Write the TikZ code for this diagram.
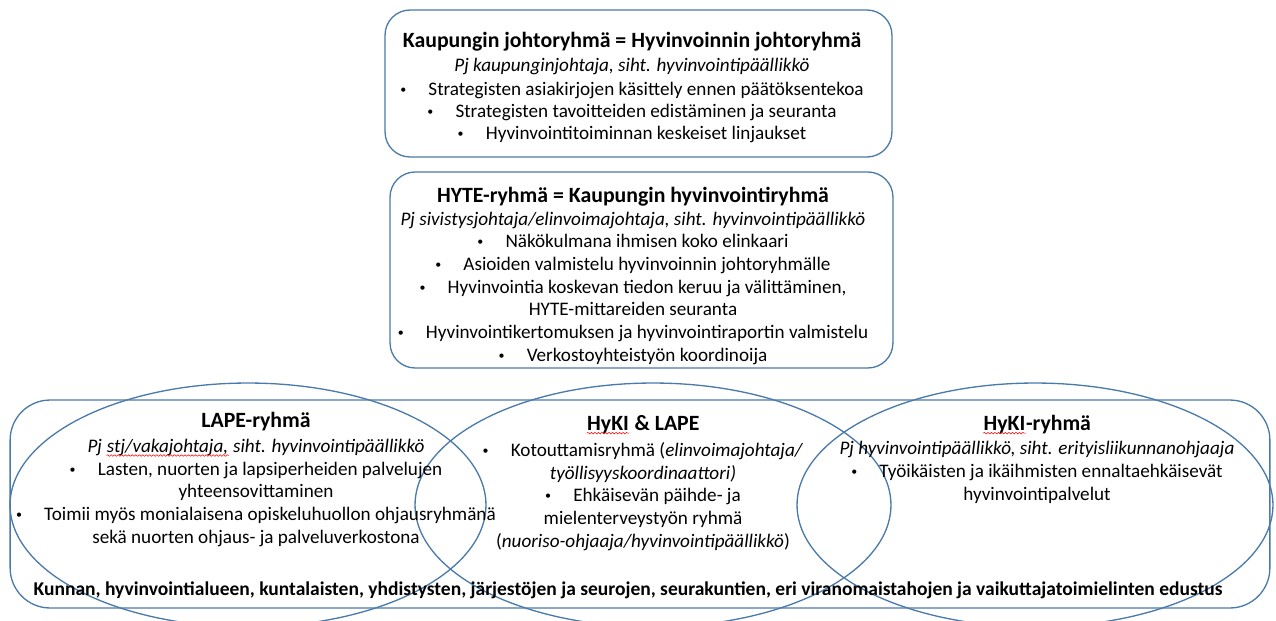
\documentclass[tikz,border=0pt]{standalone}
\usepackage{fontspec}
\setmainfont{Carlito}
\usetikzlibrary{shapes.geometric,decorations.pathmorphing}
\definecolor{frame}{RGB}{74,122,170}
\newcommand\spellerr[1]{\tikz[baseline=(sp.base)]{\node[inner sep=0pt, anchor=base] (sp) {#1};
    \draw[red, line width=0.3pt, decorate, decoration={snake, amplitude=0.45pt, segment length=2pt}] ([yshift=-1.8pt]sp.base west) -- ([yshift=-1.8pt]sp.base east);}}
\newcommand\bul{\raisebox{1.1pt}{\fontsize{6.8}{6.8}\selectfont\textbullet}\hspace{12.6pt}}

\begin{document}
\begin{tikzpicture}[x=0.02cm, y=-0.02cm, line width=0.75pt,
        groupbox/.style={draw=frame, inner sep=0pt},
        circ/.style={draw=frame, ellipse, inner sep=0pt, minimum width=9.52cm, minimum height=4.88cm},
        head/.style={font=\fontsize{12.4}{14}\selectfont\bfseries, inner sep=0pt, anchor=base},
        body/.style={font=\fontsize{10.9}{12.9}\selectfont, align=center, inner sep=0pt, anchor=base}]
    \useasboundingbox (0,0) rectangle (1276,620);

    \node[groupbox, rounded corners=0.5cm, minimum width=10.14cm, minimum height=2.94cm] (jory) at (638.5,83.5) {};
    \node[groupbox, rounded corners=0.5cm, minimum width=10.06cm, minimum height=3.92cm] (hyte) at (641.5,270) {};
    \node[groupbox, rounded corners=0.8cm, minimum width=25.2cm, minimum height=4.16cm] (verkosto) at (640,504) {};

    \node[circ] (lape) at (248,505) {};
    \node[circ] (yhteinen) at (653,505) {};
    \node[circ] (hyki) at (1035,505) {};

    % base = last line
    \node[head] (jorytitle) at (632,47) {Kaupungin johtoryhmä = Hyvinvoinnin johtoryhmä};
    \node[body] (jorytext) at (632,139) {\textit{Pj kaupunginjohtaja, siht. hyvinvointipäällikkö}\\[0.8pt]
        \bul Strategisten asiakirjojen käsittely ennen päätöksentekoa\\
        \bul Strategisten tavoitteiden edistäminen ja seuranta\\[-0.8pt]
        \bul Hyvinvointitoiminnan keskeiset linjaukset};

    \node[head] (hytetitle) at (633,202) {HYTE-ryhmä = Kaupungin hyvinvointiryhmä};
    \node[body] (hytetext) at (633,361) {\textit{Pj sivistysjohtaja/elinvoimajohtaja, siht. hyvinvointipäällikkö}\\
        \bul Näkökulmana ihmisen koko elinkaari\\
        \bul Asioiden valmistelu hyvinvoinnin johtoryhmälle\\
        \bul Hyvinvointia koskevan tiedon keruu ja välittäminen,\\
        HYTE-mittareiden seuranta\\
        \bul Hyvinvointikertomuksen ja hyvinvointiraportin valmistelu\\
        \bul Verkostoyhteistyön koordinoija};

    \node[head] (lapetitle) at (256,427) {LAPE-ryhmä};
    \node[body] (lapetext) at (256,543) {\textit{Pj \spellerr{stj/vakajohtaja,} siht. hyvinvointipäällikkö}\\
        \bul Lasten, nuorten ja lapsiperheiden palvelujen\\
        yhteensovittaminen\\
        \bul Toimii myös monialaisena opiskeluhuollon ohjausryhmänä\\
        sekä nuorten ohjaus- ja palveluverkostona};

    \node[head] (yhteinentitle) at (643,430) {\spellerr{HyKI} \& LAPE};
    \node[body] (yhteinentext) at (643,547) {\bul Kotouttamisryhmä (\textit{elinvoimajohtaja/}\\
        \textit{työllisyyskoordinaattori)}\\
        \bul Ehkäisevän päihde- ja\\
        mielenterveystyön ryhmä\\
        (\textit{nuoriso-ohjaaja/hyvinvointipäällikkö})};

    \node[head] (hykititle) at (1037,430) {\spellerr{HyKI}-ryhmä};
    \node[body] (hykitext) at (1037,500) {\textit{Pj hyvinvointipäällikkö, siht. erityisliikunnanohjaaja}\\
        \bul Työikäisten ja ikäihmisten ennaltaehkäisevät\\
        hyvinvointipalvelut};

    \node[body, font=\fontsize{11.1}{13}\selectfont\bfseries] (edustus) at (628,595) {Kunnan, hyvinvointialueen, kuntalaisten, yhdistysten, järjestöjen ja seurojen, seurakuntien, eri viranomaistahojen ja vaikuttajatoimielinten edustus};
\end{tikzpicture}
\end{document}
